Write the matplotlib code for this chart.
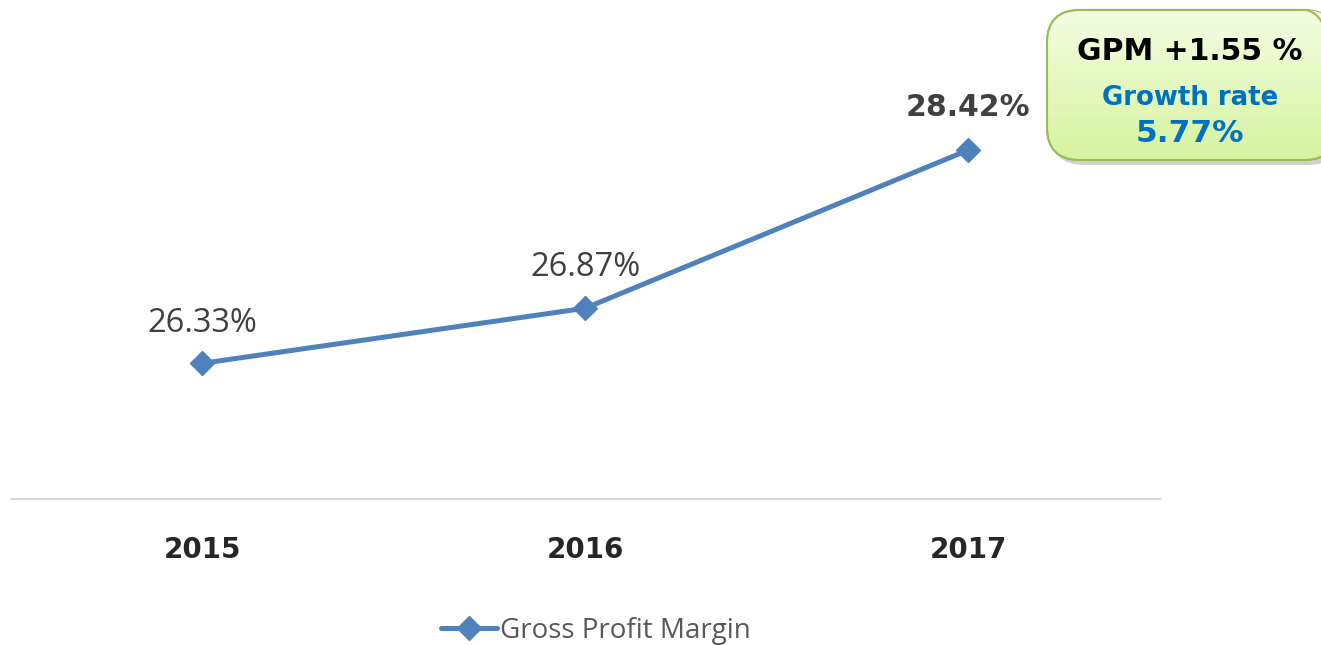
import matplotlib.pyplot as plt
import numpy as np
from matplotlib.patches import FancyBboxPatch

# data
years = ['2015', '2016', '2017']
gpm = [26.33, 26.87, 28.42]
label_bold = [False, False, True]
box_lines = ['GPM +1.55 %', 'Growth rate', '5.77%']

W, H = 1321, 645
fig = plt.figure(figsize=(W / 100, H / 100), dpi=100)
ax = fig.add_axes([10.5 / W, 1 - 499 / H, 1149 / W, 408 / H])

x = np.arange(len(years))
line, = ax.plot(x, gpm, color='#4F81BD', linewidth=3.6, marker='D', markersize=12,
                solid_capstyle='round', label='Gross Profit Margin')

ax.set_xlim(-0.5, len(years) - 0.5)
ax.set_ylim(25, 29)
for s in ['top', 'right', 'left']:
    ax.spines[s].set_visible(False)
ax.spines['bottom'].set_color('#D9D9D9')
ax.spines['bottom'].set_linewidth(1.5)
ax.set_yticks([])
ax.set_xticks(x)
ax.set_xticklabels(years, fontsize=20, fontweight='bold', color='#262626', family='DejaVu Sans')
ax.tick_params(axis='x', length=0, pad=27)

# data labels
for xi, v, b in zip(x, gpm, label_bold):
    if b:
        ax.annotate(f'{v:.2f}%', (xi, v), xytext=(0, 31), textcoords='offset points',
                    ha='center', va='center', fontsize=21.5, fontweight='bold',
                    color='#404040', family='DejaVu Sans')
    else:
        ax.annotate(f'{v:.2f}%', (xi, v), xytext=(0, 29), textcoords='offset points',
                    ha='center', va='center', fontsize=23.5, color='#404040', family='Open Sans')

# legend
fig.legend(handles=[line], loc='center', bbox_to_anchor=(596 / W, 1 - 631 / H),
           frameon=False, handlelength=2.0, handletextpad=0.1,
           prop={'family': 'Open Sans', 'size': 20}, labelcolor='#595959')

# callout box
bx, by, bw, bh = 1047 / W, 1 - 160 / H, 290 / W, 150 / H
shadow = FancyBboxPatch((bx + 4 / W, by - 5 / H), bw, bh, boxstyle='round,pad=0,rounding_size=0.025',
                        transform=fig.transFigure, facecolor='#000000', alpha=0.18,
                        edgecolor='none', mutation_aspect=W / H, zorder=2)
fig.patches.append(shadow)
box = FancyBboxPatch((bx, by), bw, bh, boxstyle='round,pad=0,rounding_size=0.025',
                     transform=fig.transFigure, facecolor='#E8F9C0', edgecolor='#9BBB59',
                     linewidth=1.5, mutation_aspect=W / H, zorder=3)
fig.patches.append(box)
grad = np.linspace(0, 1, 100).reshape(-1, 1)
gax = fig.add_axes([bx, by, bw, bh], zorder=4)
gax.set_axis_off()
img = gax.imshow(grad, aspect='auto', extent=[bx, bx + bw, by, by + bh], origin='upper',
                 cmap=plt.matplotlib.colors.LinearSegmentedColormap.from_list('g', ['#F4FDE2', '#D6F3A0']),
                 transform=fig.transFigure)
img.set_clip_path(box)
border = FancyBboxPatch((bx, by), bw, bh, boxstyle='round,pad=0,rounding_size=0.025',
                        transform=fig.transFigure, facecolor='none', edgecolor='#9BBB59',
                        linewidth=1.5, mutation_aspect=W / H, zorder=5)
fig.patches.append(border)

cx = 1190 / W
fig.text(cx, 1 - 52 / H, box_lines[0], ha='center', va='center', fontsize=21.5,
         fontweight='bold', color='#000000', zorder=6)
fig.text(cx, 1 - 98 / H, box_lines[1], ha='center', va='center', fontsize=18.7,
         fontweight='bold', color='#0070C0', zorder=6)
fig.text(cx, 1 - 134 / H, box_lines[2], ha='center', va='center', fontsize=22.5,
         fontweight='bold', color='#0070C0', zorder=6)

fig.savefig('out.png', dpi=100)
